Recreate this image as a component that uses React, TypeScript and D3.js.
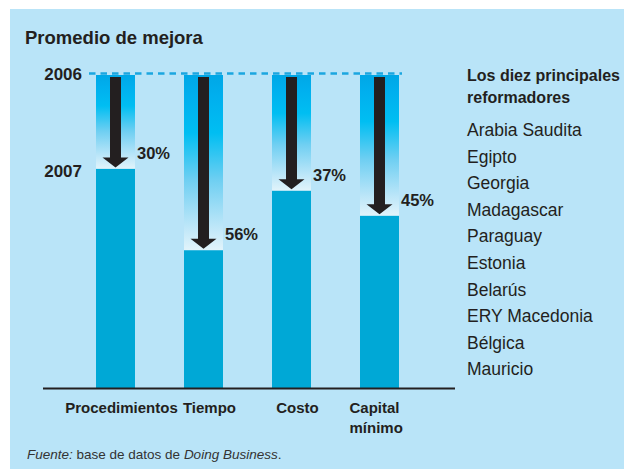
import React from "react";
import * as d3 from "d3";

const categories = ["Procedimientos", "Tiempo", "Costo", "Capital mínimo"];
const improvement = [30, 56, 37, 45];
const yearLabels = ["2006", "2007"];
const reformers = [
  "Arabia Saudita",
  "Egipto",
  "Georgia",
  "Madagascar",
  "Paraguay",
  "Estonia",
  "Belarús",
  "ERY Macedonia",
  "Bélgica",
  "Mauricio",
];
const title = "Promedio de mejora";
const legendTitle = ["Los diez principales", "reformadores"];

const W = 624;
const H = 469;
const FONT = "'Liberation Sans', Arial, sans-serif";
const TEXT = "#231f20";

export default function App() {
  const y = d3.scaleLinear().domain([0, 100]).range([388, 75]);
  const x = d3.scalePoint<string>().domain(categories).range([115.5, 379.5]);
  const bw = 39;

  return (
    <svg
      width={W}
      height={H}
      style={{ position: "absolute", left: 0, top: 0, display: "block" }}
      fontFamily={FONT}
    >
      <defs>
        <linearGradient id="fade" x1="0" y1="0" x2="0" y2="1">
          <stop offset="0" stopColor="#00a7e6" />
          <stop offset="0.12" stopColor="#00afee" />
          <stop offset="0.33" stopColor="#00bef2" />
          <stop offset="0.6" stopColor="#6fcff2" />
          <stop offset="0.85" stopColor="#b9e5f8" />
          <stop offset="1" stopColor="#e2f4fb" />
        </linearGradient>
      </defs>
      <rect x={0} y={0} width={W} height={H} fill="#ffffff" />
      <rect x={10} y={9} width={W - 10} height={H - 9} fill="#b9e4f8" />

      <text x={25} y={44} fontSize={18.5} fontWeight="bold" fill={TEXT}>
        {title}
      </text>

      {/* year labels */}
      <text x={82} y={y(100) + 5} fontSize={17} fontWeight="bold" fill={TEXT} textAnchor="end">
        {yearLabels[0]}
      </text>
      <text
        x={82}
        y={y(100 - improvement[0]) + 8}
        fontSize={17}
        fontWeight="bold"
        fill={TEXT}
        textAnchor="end"
      >
        {yearLabels[1]}
      </text>

      {categories.map((c, i) => {
        const cx = x(c) as number;
        const top = y(100);
        const solidTop = y(100 - improvement[i]);
        const bottom = y(0);
        const tip = solidTop - 1.5;
        const headTop = tip - 10;
        const path = d3.path();
        path.moveTo(cx - 5.5, top + 2);
        path.lineTo(cx + 5.5, top + 2);
        path.lineTo(cx + 5.5, headTop);
        path.lineTo(cx + 13, headTop);
        path.lineTo(cx, tip);
        path.lineTo(cx - 13, headTop);
        path.lineTo(cx - 5.5, headTop);
        path.closePath();
        return (
          <g key={c}>
            <rect x={cx - bw / 2} y={top} width={bw} height={solidTop - top} fill="url(#fade)" />
            <rect x={cx - bw / 2} y={solidTop} width={bw} height={bottom - solidTop} fill="#00a8d6" />
            <path d={path.toString()} fill={TEXT} />
            <text
              x={cx + bw / 2 + 2}
              y={solidTop - 10}
              fontSize={16.5}
              fontWeight="bold"
              fill={TEXT}
            >
              {improvement[i]}%
            </text>
          </g>
        );
      })}

      {/* dashed 2006 line */}
      <line
        x1={89}
        x2={402}
        y1={y(100) - 1.5}
        y2={y(100) - 1.5}
        stroke="#1ba6e0"
        strokeWidth={2.5}
        strokeDasharray="6.5 5"
      />

      {/* axis */}
      <line x1={43} x2={455} y1={y(0) + 0.5} y2={y(0) + 0.5} stroke={TEXT} strokeWidth={2} />

      {categories.map((c) => {
        const cx = x(c) as number;
        const parts = c.split(" ");
        if (c.length > 10 && parts.length > 1) {
          return (
            <text key={c} x={cx - 30} y={413} fontSize={15} fontWeight="bold" fill={TEXT}>
              {parts.map((p, j) => (
                <tspan key={j} x={cx - 30} dy={j === 0 ? 0 : 20}>
                  {p}
                </tspan>
              ))}
            </text>
          );
        }
        return (
          <text key={c} x={cx + 6} y={413} fontSize={15} fontWeight="bold" fill={TEXT} textAnchor="middle">
            {c}
          </text>
        );
      })}

      {/* legend */}
      {legendTitle.map((t, i) => (
        <text key={t} x={467} y={81 + i * 22} fontSize={16} fontWeight="bold" fill={TEXT}>
          {t}
        </text>
      ))}
      {reformers.map((r, i) => (
        <text key={r} x={467} y={136 + i * 26.6} fontSize={17.5} fill={TEXT}>
          {r}
        </text>
      ))}

      {/* source */}
      <text x={27} y={459} fontSize={13.5} fill="#333333">
        <tspan fontStyle="italic">Fuente:</tspan>
        <tspan> base de datos de </tspan>
        <tspan fontStyle="italic">Doing Business</tspan>
        <tspan>.</tspan>
      </text>
    </svg>
  );
}
